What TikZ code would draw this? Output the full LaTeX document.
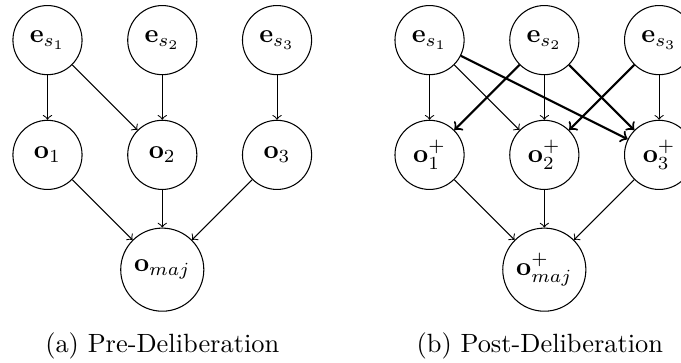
\documentclass[tikz,border=0pt]{standalone}
\usepackage{amsmath, amssymb, amsfonts}
\usepackage{xcolor}
\usepackage{tikz}
\usetikzlibrary{calc, arrows, positioning}
\tikzset{
    circlenode/.style = {circle, draw, inner sep = 0em, minimum size=26.2pt, node distance=43.5pt},
    bigcirclenode/.style = {circlenode, minimum size=31.5pt},
    textnode/.style  = {draw=none, fill=none, rectangle, inner sep = 0em, node distance=0em, font=\normalsize},
    connect/.style = {black,->},
    strongconnect/.style = {black,->,thick},
}

\begin{document}
\begin{tikzpicture}
\useasboundingbox (-18.0pt,15.2pt) rectangle (240.1pt,-122pt);

% (a) before deliberation
\node [circlenode, name=Es1] {$\mathbf{e}_{s_1}$};
\node [circlenode, name=Es2, right of=Es1] {$\mathbf{e}_{s_2}$};
\node [circlenode, name=Es3, right of=Es2] {$\mathbf{e}_{s_3}$};
\node [circlenode, name=O1, below of=Es1] {$\mathbf{o}_1$};
\node [circlenode, name=O2, below of=Es2] {$\mathbf{o}_2$};
\node [circlenode, name=O3, below of=Es3] {$\mathbf{o}_3$};
\node [bigcirclenode, name=Omaj, below of=O2] {$\mathbf{o}_{maj}$};

\draw (Es1) edge[connect] (O1);
\draw (Es1) edge[connect] (O2);
\draw (Es2) edge[connect] (O2);
\draw (Es3) edge[connect] (O3);
\draw (O1) edge[connect] (Omaj);
\draw (O2) edge[connect] (Omaj);
\draw (O3) edge[connect] (Omaj);

\node [textnode, name=CapA, below of=Omaj, yshift=-28.8pt] {(a) Pre-Deliberation};

% (b) after deliberation
\node [circlenode, name=Ps1, right of=Es3, xshift=14.3pt] {$\mathbf{e}_{s_1}$};
\node [circlenode, name=Ps2, right of=Ps1] {$\mathbf{e}_{s_2}$};
\node [circlenode, name=Ps3, right of=Ps2] {$\mathbf{e}_{s_3}$};
\node [circlenode, name=P1, below of=Ps1] {$\mathbf{o}_1^+$};
\node [circlenode, name=P2, below of=Ps2] {$\mathbf{o}_2^+$};
\node [circlenode, name=P3, below of=Ps3] {$\mathbf{o}_3^+$};
\node [bigcirclenode, name=Pmaj, below of=P2] {$\mathbf{o}_{maj}^+$};

\draw (Ps1) edge[connect] (P1);
\draw (Ps1) edge[connect] (P2);
\draw (Ps2) edge[connect] (P2);
\draw (Ps3) edge[connect] (P3);
\draw (Ps1) edge[strongconnect] (P3);
\draw (Ps2) edge[strongconnect] (P1);
\draw (Ps2) edge[strongconnect] (P3);
\draw (Ps3) edge[strongconnect] (P2);
\draw (P1) edge[connect] (Pmaj);
\draw (P2) edge[connect] (Pmaj);
\draw (P3) edge[connect] (Pmaj);

\node [textnode, name=CapB, below of=Pmaj, xshift=-1.7pt, yshift=-28.8pt] {(b) Post-Deliberation};

\end{tikzpicture}
\end{document}
